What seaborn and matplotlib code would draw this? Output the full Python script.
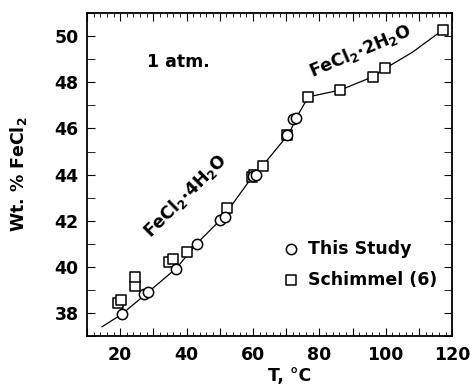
import matplotlib
matplotlib.use("Agg")
import matplotlib.pyplot as plt
import seaborn as sns
from matplotlib.ticker import MultipleLocator

# solubility data
study_T = [20.5, 27.3, 28.4, 36.9, 43.1, 50.1, 51.6, 60.1, 61.0, 70.2, 72.2, 73.0]
study_w = [37.95, 38.82, 38.90, 39.90, 40.99, 42.05, 42.17, 43.92, 43.97, 45.70, 46.40, 46.45]

schimmel_T = [19.3, 20.2, 24.6, 24.6, 34.8, 35.9, 40.0, 52.1, 59.6, 60.4, 62.9, 70.3,
              76.7, 86.2, 96.1, 99.8, 117.1]
schimmel_w = [38.45, 38.55, 39.15, 39.55, 40.20, 40.35, 40.65, 42.55, 43.90, 43.98, 44.38, 45.70,
              47.37, 47.66, 48.24, 48.60, 50.26]

curve_T = [14.5, 20.5, 28, 37, 43, 51, 60, 63, 71, 73, 76.7, 86.2, 96.1, 99.8, 108, 117.1]
curve_w = [37.4, 37.95, 38.85, 39.95, 41.0, 42.15, 43.95, 44.4, 45.8, 46.45, 47.37, 47.66,
           48.24, 48.6, 49.3, 50.26]

sns.set_style("ticks")
plt.rcParams['font.family'] = ['DejaVu Sans']
plt.rcParams['font.weight'] = 'bold'
plt.rcParams['mathtext.default'] = 'regular'
plt.rcParams['text.color'] = 'black'
plt.rcParams['axes.labelcolor'] = 'black'
plt.rcParams['axes.labelweight'] = 'bold'

fig = plt.figure(figsize=(4.7, 3.85), dpi=100)
ax = fig.add_axes([0.185, 0.127, 0.777, 0.839])

sns.lineplot(x=curve_T, y=curve_w, ax=ax, color='black', linewidth=0.9, sort=False, zorder=1)
sns.scatterplot(x=study_T, y=study_w, ax=ax, marker='o', s=55, facecolor='white',
                edgecolor='black', linewidth=1.1, label='This Study', zorder=3)
sns.scatterplot(x=schimmel_T, y=schimmel_w, ax=ax, marker='s', s=50, facecolor='white',
                edgecolor='black', linewidth=1.1, label='Schimmel (6)', zorder=2)

ax.set_xlim(10, 120)
ax.set_ylim(37, 51)
ax.xaxis.set_major_locator(MultipleLocator(10))
ax.xaxis.set_minor_locator(MultipleLocator(2))
ax.set_xticklabels(['' if v % 20 else str(int(v)) for v in ax.get_xticks()])
ax.yaxis.set_major_locator(MultipleLocator(2))
ax.yaxis.set_minor_locator(MultipleLocator(1))

ax.tick_params(axis='both', which='both', direction='in', top=True, right=True,
               colors='black', labelsize=12.5)
ax.tick_params(axis='x', which='major', length=6, pad=7)
ax.tick_params(axis='x', which='minor', length=3)
ax.tick_params(axis='y', which='both', length=6, pad=6)
for sp in ax.spines.values():
    sp.set_linewidth(1.3)
    sp.set_color('black')

ax.set_xlabel('T, °C', fontsize=12.5)
ax.xaxis.set_label_coords(0.555, -0.095)
ax.set_ylabel(r'Wt. % FeCl$_2$', fontsize=12.5)
ax.yaxis.set_label_coords(-0.16, 0.5)

ax.text(28, 48.9, '1 atm.', fontsize=12.5, ha='left', va='center')
ax.text(39.5, 43.1, r'FeCl$_2$$\cdot$4H$_2$O', fontsize=12.5, rotation=45,
        ha='center', va='center', rotation_mode='anchor')
ax.text(92.3, 49.35, r'FeCl$_2$$\cdot$2H$_2$O', fontsize=12.5, rotation=23,
        ha='center', va='center', rotation_mode='anchor')

leg = ax.legend(loc='upper left', bbox_to_anchor=(0.52, 0.32), frameon=False, fontsize=12.5,
                handlelength=0.8, handletextpad=0.6, labelspacing=0.75, borderaxespad=0)

fig.savefig('out.png', dpi=100)
